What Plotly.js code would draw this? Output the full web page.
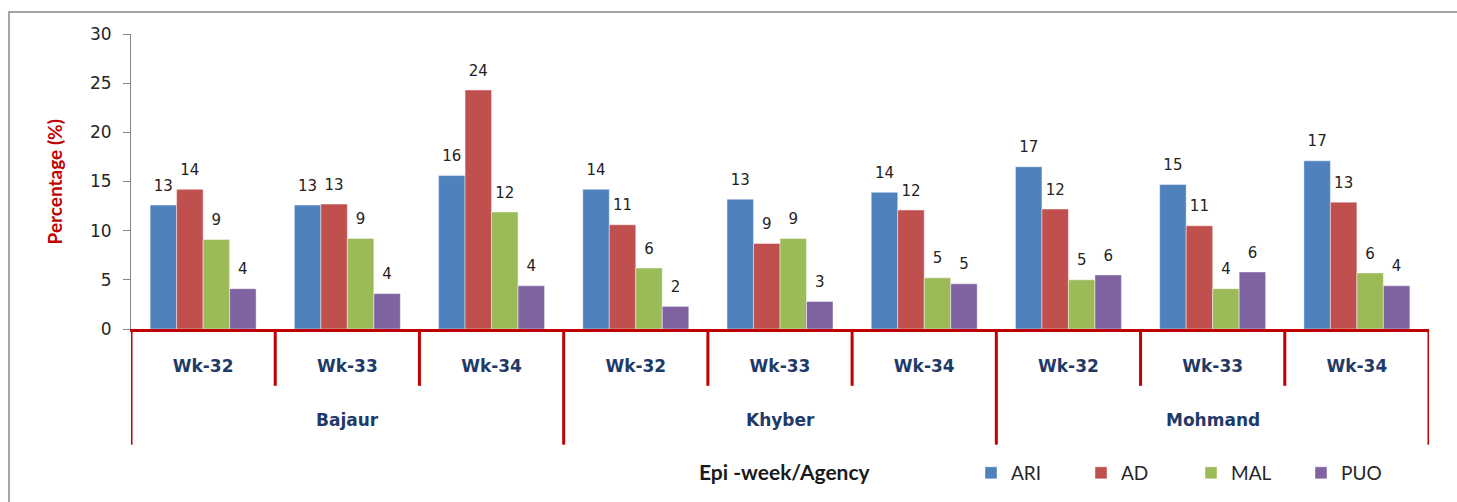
<!DOCTYPE html>
<html>
<head>
<meta charset="utf-8">
<script src="https://cdn.plot.ly/plotly-3.0.1.min.js"></script>
<style>
  html, body { margin: 0; padding: 0; background: #ffffff; }
  #chart { width: 1457px; height: 502px; }
</style>
</head>
<body>
<div id="chart"></div>
<script>
// ---- data ----
const agencies = ['Bajaur', 'Khyber', 'Mohmand'];
const weeks = ['Wk-32', 'Wk-33', 'Wk-34'];
const seriesNames = ['ARI', 'AD', 'MAL', 'PUO'];

const ARI = [12.6, 12.6, 15.6, 14.2, 13.2, 13.9, 16.5, 14.7, 17.1];
const AD  = [14.2, 12.7, 24.3, 10.6, 8.7, 12.1, 12.2, 10.5, 12.9];
const MAL = [9.1, 9.2, 11.9, 6.2, 9.2, 5.2, 5.0, 4.1, 5.7];
const PUO = [4.1, 3.6, 4.4, 2.3, 2.8, 4.6, 5.5, 5.8, 4.4];

const ARI_labels = [13, 13, 16, 14, 13, 14, 17, 15, 17];
const AD_labels  = [14, 13, 24, 11, 9, 12, 12, 11, 13];
const MAL_labels = [9, 9, 12, 6, 9, 5, 5, 4, 6];
const PUO_labels = [4, 4, 4, 2, 3, 5, 6, 6, 4];

const yTickVals = [0, 5, 10, 15, 20, 25, 30];

// ---- styles ----
const colors = ['#4f81bd', '#c0504d', '#9bbb59', '#8064a2'];
const red = '#c00000';
const navy = '#1f3a68';
const labelPad = 0.75; // gap (in axis units) between bar top and its value label

// ---- build categories ----
const xLabels = [];
agencies.forEach(a => weeks.forEach(w => xLabels.push(w)));
const xIdx = xLabels.map((_, i) => i);

const values = [ARI, AD, MAL, PUO];
const labels = [ARI_labels, AD_labels, MAL_labels, PUO_labels];

const traces = [];
seriesNames.forEach((name, s) => {
  traces.push({
    type: 'bar', name: name, x: xIdx, y: values[s],
    offsetgroup: name,
    marker: { color: colors[s], line: { color: 'rgba(255,255,255,0.55)', width: 0.8 } },
    hoverinfo: 'y+name'
  });
});
seriesNames.forEach((name, s) => {
  traces.push({
    type: 'bar', name: name + ' label', x: xIdx,
    base: values[s], y: values[s].map(() => labelPad),
    offsetgroup: name, showlegend: false, hoverinfo: 'skip',
    marker: { color: 'rgba(0,0,0,0)' },
    text: labels[s].map(String), textposition: 'outside',
    constraintext: 'none', cliponaxis: false,
    textfont: { family: 'DejaVu Sans', size: 15, color: '#222222' }
  });
});

// ---- separators between categories (x axis tick marks / dividers) ----
const shapes = [];
const nCat = xLabels.length;
for (let i = 0; i <= nCat; i++) {
  const long = (i % weeks.length === 0);
  shapes.push({
    type: 'line', xref: 'x', yref: 'paper',
    x0: i - 0.5, x1: i - 0.5, y0: 0, y1: long ? -0.392 : -0.1926,
    line: { color: red, width: 3 }
  });
}
// outer chart border
shapes.push({
  type: 'rect', xref: 'paper', yref: 'paper',
  x0: -0.094, x1: 1.06, y0: -0.7, y1: 1.0743,
  line: { color: '#a6a6a6', width: 2 }, fillcolor: 'rgba(0,0,0,0)'
});

const annotations = [];
agencies.forEach((a, g) => {
  annotations.push({
    xref: 'x', yref: 'paper', x: g * weeks.length + (weeks.length - 1) / 2, y: -0.309,
    text: '<b>' + a + '</b>', showarrow: false, yanchor: 'middle',
    font: { family: 'DejaVu Sans', size: 17, color: navy }
  });
});
annotations.push({
  xref: 'paper', yref: 'paper', x: 0.504, y: -0.483,
  text: '<b>Epi -week/Agency</b>', showarrow: false, xanchor: 'center', yanchor: 'middle',
  font: { family: 'Lato', size: 21, color: '#1a1a1a' }
});
annotations.push({
  xref: 'paper', yref: 'paper', x: -0.0586, y: 0.5, textangle: -90,
  text: '<b>Percentage (%)</b>', showarrow: false, xanchor: 'center', yanchor: 'middle',
  font: { family: 'Lato', size: 19, color: red }
});

const layout = {
  width: 1457, height: 502,
  margin: { l: 131, r: 28, t: 34, b: 172, pad: 0 },
  paper_bgcolor: '#ffffff', plot_bgcolor: '#ffffff',
  barmode: 'group', bargap: 0.265, bargroupgap: 0,
  showlegend: true,
  legend: {
    orientation: 'h', x: (971 - 131) / 1298, xanchor: 'left', y: -0.483, yanchor: 'middle',
    font: { family: 'Lato', size: 19, color: '#262626' },
    entrywidth: 65, entrywidthmode: 'pixels', traceorder: 'normal'
  },
  xaxis: {
    range: [-0.5, nCat - 0.5], tickmode: 'array', tickvals: xIdx, ticktext: xLabels.map(t => '<b>' + t + '</b>'),
    ticks: '', showgrid: false, zeroline: false,
    showline: true, linecolor: red, linewidth: 3,
    tickfont: { family: 'DejaVu Sans', size: 17, color: navy },
    ticklabelstandoff: 20, fixedrange: true
  },
  yaxis: {
    range: [0, 30], tickmode: 'array', tickvals: yTickVals,
    ticks: 'outside', ticklen: 7, tickcolor: '#868686', tickwidth: 1,
    showgrid: false, zeroline: false, showline: true, linecolor: '#868686', linewidth: 1,
    tickfont: { family: 'DejaVu Sans', size: 17, color: '#262626' },
    ticklabelstandoff: 8, fixedrange: true
  },
  shapes: shapes,
  annotations: annotations
};

Plotly.newPlot('chart', traces, layout, { displayModeBar: false, staticPlot: true });
</script>
</body>
</html>
